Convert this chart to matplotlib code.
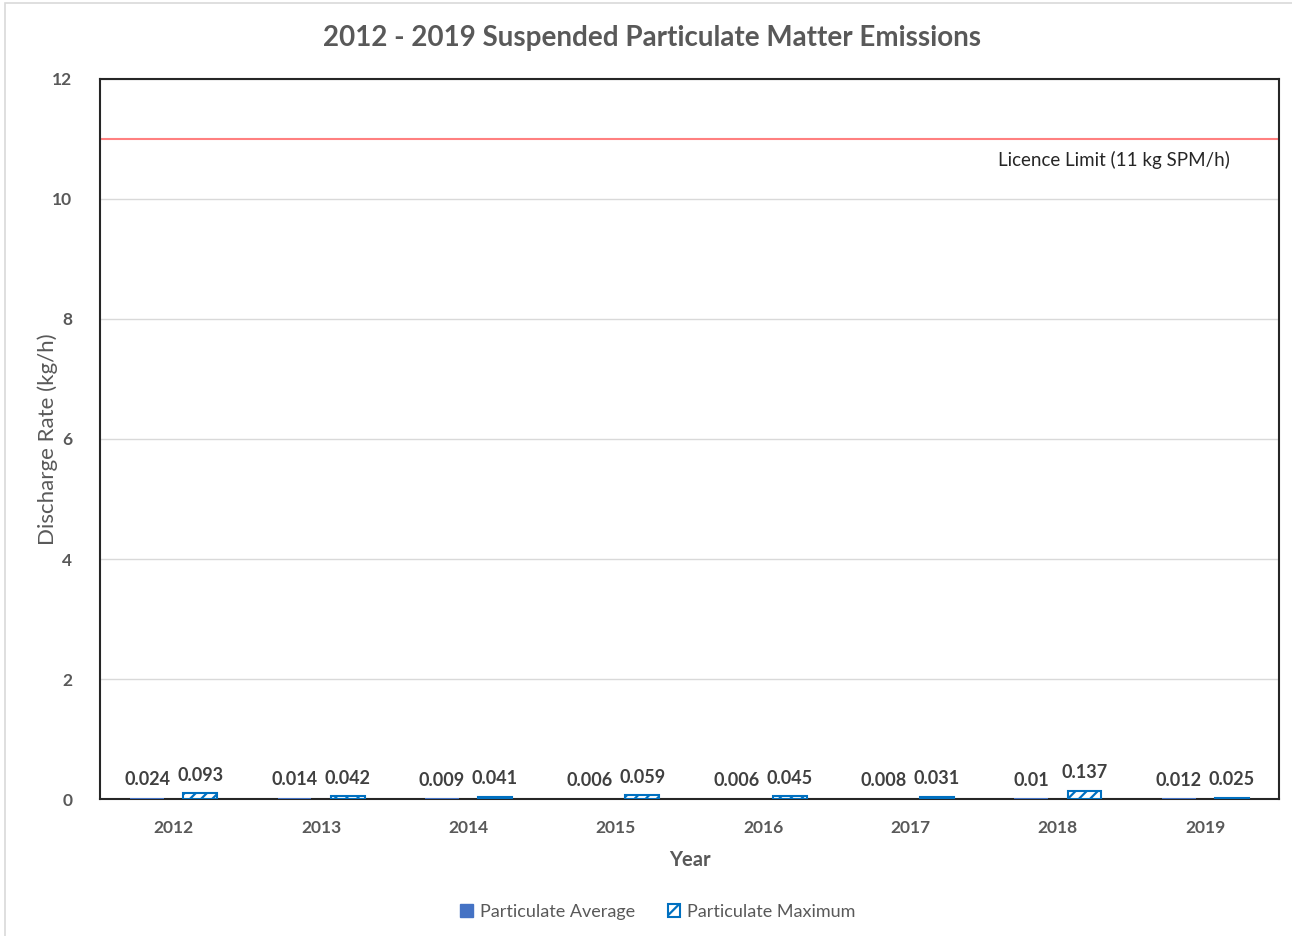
import matplotlib
matplotlib.use("Agg")
import matplotlib.pyplot as plt
import numpy as np
from matplotlib.patches import Rectangle

plt.rcParams['font.family'] = ['Lato', 'DejaVu Sans']
plt.rcParams['hatch.linewidth'] = 1.6

years = ['2012', '2013', '2014', '2015', '2016', '2017', '2018', '2019']
avg_vals = [0.024, 0.014, 0.009, 0.006, 0.006, 0.008, 0.01, 0.012]
max_vals = [0.093, 0.042, 0.041, 0.059, 0.045, 0.031, 0.137, 0.025]
avg_labels = ['0.024', '0.014', '0.009', '0.006', '0.006', '0.008', '0.01', '0.012']
max_labels = ['0.093', '0.042', '0.041', '0.059', '0.045', '0.031', '0.137', '0.025']
licence_limit = 11

avg_color = '#4472C4'
max_color = '#0070C0'
text_color = '#595959'
label_color = '#404040'

fig = plt.figure(figsize=(12.92, 9.36), dpi=100)
ax = fig.add_axes([100 / 1292, 1 - 799 / 936, 1179 / 1292, 720 / 936])

# outer chart frame
fig.patches.append(Rectangle((5 / 1292, -0.01), 1.0, 1 - 3 / 936 + 0.01,
                             transform=fig.transFigure, fill=False,
                             edgecolor='#D9D9D9', linewidth=1.2))

x = np.arange(len(years))
off = 0.18
w = 0.23
ax.bar(x - off, avg_vals, w, color=avg_color, zorder=3)
ax.bar(x + off, max_vals, w, facecolor='white', edgecolor=max_color,
       hatch='///', linewidth=1.5, zorder=3)

for xi, v, s in zip(x - off, avg_vals, avg_labels):
    ax.annotate(s, (xi, v), xytext=(0, 7), textcoords='offset points',
                ha='center', va='bottom', fontsize=13, fontweight='bold',
                color=label_color)
for xi, v, s in zip(x + off, max_vals, max_labels):
    ax.annotate(s, (xi, v), xytext=(0, 7), textcoords='offset points',
                ha='center', va='bottom', fontsize=13, fontweight='bold',
                color=label_color)

ax.axhline(licence_limit, color='#FF8080', linewidth=1.5, zorder=2)
ax.text(7.17, 10.65, 'Licence Limit (11 kg SPM/h)', ha='right', va='center',
        fontsize=13.5, color='#262626')

ax.set_xlim(-0.5, len(years) - 0.5)
ax.set_ylim(0, 12)
ax.set_yticks(np.arange(0, 13, 2))
ax.set_xticks(x)
ax.set_xticklabels(years)
ax.yaxis.grid(True, color='#D9D9D9', linewidth=1.0, zorder=0)
ax.set_axisbelow(True)
ax.tick_params(length=0, labelsize=12.5, labelcolor=text_color)
for lab in ax.get_xticklabels() + ax.get_yticklabels():
    lab.set_fontweight('bold')
ax.tick_params(axis='x', pad=15)
ax.tick_params(axis='y', pad=20)
for sp in ax.spines.values():
    sp.set_color('#262626')
    sp.set_linewidth(1.5)

ax.set_xlabel('Year', fontsize=14.5, fontweight='bold', color=text_color, labelpad=10)
ax.set_ylabel('Discharge Rate (kg/h)', fontsize=16, color=text_color, labelpad=-4)
fig.text(0.5 + 6 / 1292, 1 - 38 / 936, '2012 - 2019 Suspended Particulate Matter Emissions',
         ha='center', va='center', fontsize=20, fontweight='bold', color=text_color)

h1 = Rectangle((0, 0), 1, 1, color=avg_color)
h2 = Rectangle((0, 0), 1, 1, facecolor='white', edgecolor=max_color, hatch='//', linewidth=1.5)
fig.legend([h1, h2], ['Particulate Average', 'Particulate Maximum'],
           loc='center', bbox_to_anchor=(0.5 + 12 / 1292, 1 - 912 / 936), ncol=2, frameon=False,
           fontsize=13, labelcolor=text_color, handlelength=0.7, handleheight=0.7,
           handletextpad=0.4, columnspacing=1.8)

fig.savefig('out.png', dpi=100)
